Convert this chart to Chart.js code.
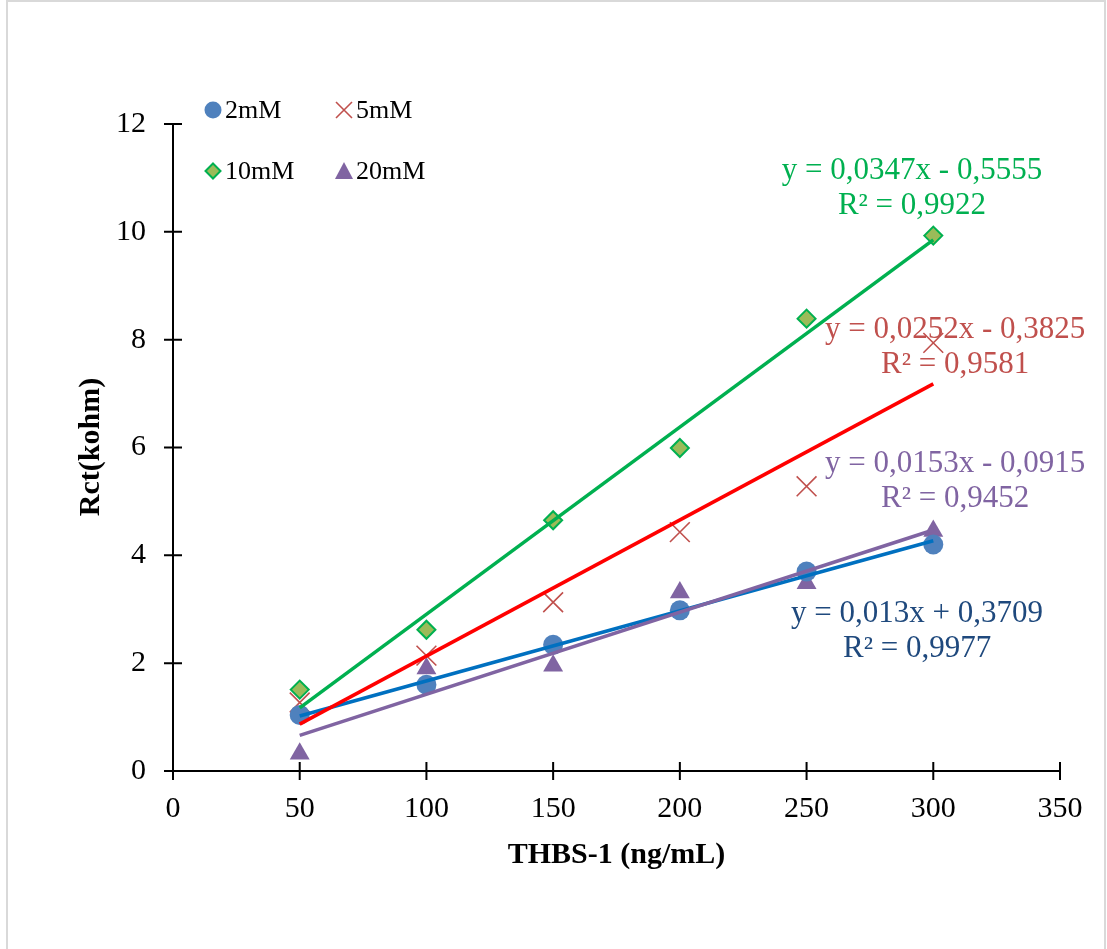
<!DOCTYPE html>
<html>
<head>
<meta charset="utf-8">
<script src="https://cdn.jsdelivr.net/npm/chart.js@4.4.1/dist/chart.umd.min.js"></script>
<style>
  html, body { margin: 0; padding: 0; background: #fff; }
  #wrap { width: 1107px; height: 949px; }
</style>
</head>
<body>
<div id="wrap"><canvas id="c" width="1107" height="949"></canvas></div>
<script>
// data
const concentrations = [50, 100, 150, 200, 250, 300];
const rct2mM  = [1.04, 1.60, 2.34, 2.98, 3.70, 4.20];
const rct5mM  = [1.27, 2.14, 3.13, 4.43, 5.28, 7.94];
const rct10mM = [1.51, 2.62, 4.65, 5.99, 8.39, 9.93];
const rct20mM = [0.32, 1.90, 1.95, 3.31, 3.48, 4.45];

// trendline ends (x = 50 and x = 300)
const trendX = [50, 300];
const trend2mM  = [1.02, 4.27];
const trend5mM  = [0.87, 7.18];
const trend10mM = [1.17, 9.85];
const trend20mM = [0.66, 4.47];

const xTicks = [0, 50, 100, 150, 200, 250, 300, 350];
const yTicks = [0, 2, 4, 6, 8, 10, 12];

const equations = [
  { lines: ['y = 0,0347x - 0,5555', 'R² = 0,9922'], at: [291.6, 11.14], color: '#00B050' },
  { lines: ['y = 0,0252x - 0,3825', 'R² = 0,9581'], at: [308.6, 8.18],  color: '#C0504D' },
  { lines: ['y = 0,0153x - 0,0915', 'R² = 0,9452'], at: [308.6, 5.69],  color: '#8064A2' },
  { lines: ['y = 0,013x + 0,3709',  'R² = 0,9977'], at: [293.6, 2.91],  color: '#1F497D' }
];

const SERIF = '"Liberation Serif", "Times New Roman", serif';

function pts(xs, ys) {
  return xs.map((x, i) => ({ x: x, y: ys[i] }));
}

function trend(ys, color) {
  return {
    type: 'line', data: pts(trendX, ys), borderColor: color, borderWidth: 3.5,
    pointRadius: 0, showLine: true, fill: false, order: 1
  };
}

// 軸の目盛り線、タイトル、凡例、近似式を描く
const decorations = {
  id: 'decorations',
  beforeDraw(chart) {
    const ctx = chart.ctx;
    ctx.save();
    ctx.strokeStyle = '#d9d9d9';
    ctx.lineWidth = 2;
    ctx.strokeRect(7, 1, 1098, 980);
    ctx.restore();
  },
  afterDraw(chart) {
    const ctx = chart.ctx;
    const xs = chart.scales.x, ys = chart.scales.y;
    const a = chart.chartArea;
    ctx.save();
    ctx.strokeStyle = '#000';
    ctx.lineWidth = 2;
    ctx.beginPath();
    yTicks.forEach(v => {
      const py = ys.getPixelForValue(v);
      ctx.moveTo(a.left - 9, py); ctx.lineTo(a.left + 9, py);
    });
    xTicks.forEach(v => {
      const px = xs.getPixelForValue(v);
      ctx.moveTo(px, a.bottom - 9); ctx.lineTo(px, a.bottom + 9);
    });
    ctx.stroke();

    // axis titles
    ctx.fillStyle = '#000';
    ctx.font = 'bold 30px ' + SERIF;
    ctx.textAlign = 'center';
    ctx.textBaseline = 'alphabetic';
    ctx.fillText('THBS-1 (ng/mL)', (a.left + a.right) / 2, 863);
    ctx.save();
    ctx.translate(99, 447);
    ctx.rotate(-Math.PI / 2);
    ctx.fillText('Rct(kohm)', 0, 0);
    ctx.restore();

    // legend
    const legend = [
      { label: '2mM',  style: 'circle',   x: 213, y: 110 },
      { label: '5mM',  style: 'cross',    x: 344, y: 110 },
      { label: '10mM', style: 'diamond',  x: 213, y: 171 },
      { label: '20mM', style: 'triangle', x: 344, y: 171 }
    ];
    legend.forEach(it => {
      ctx.beginPath();
      if (it.style === 'circle') {
        ctx.fillStyle = '#4F81BD';
        ctx.arc(it.x, it.y, 8.5, 0, Math.PI * 2);
        ctx.fill();
      } else if (it.style === 'cross') {
        ctx.strokeStyle = '#C0504D';
        ctx.lineWidth = 1.6;
        ctx.moveTo(it.x - 8, it.y - 8); ctx.lineTo(it.x + 8, it.y + 8);
        ctx.moveTo(it.x + 8, it.y - 8); ctx.lineTo(it.x - 8, it.y + 8);
        ctx.stroke();
      } else if (it.style === 'diamond') {
        ctx.fillStyle = '#9BBB59';
        ctx.strokeStyle = '#00B050';
        ctx.lineWidth = 2;
        ctx.moveTo(it.x, it.y - 7.5); ctx.lineTo(it.x + 7.5, it.y);
        ctx.lineTo(it.x, it.y + 7.5); ctx.lineTo(it.x - 7.5, it.y);
        ctx.closePath(); ctx.fill(); ctx.stroke();
      } else {
        ctx.fillStyle = '#8064A2';
        ctx.moveTo(it.x, it.y - 9); ctx.lineTo(it.x + 9, it.y + 8);
        ctx.lineTo(it.x - 9, it.y + 8);
        ctx.closePath(); ctx.fill();
      }
      ctx.fillStyle = '#000';
      ctx.font = '26px ' + SERIF;
      ctx.textAlign = 'left';
      ctx.textBaseline = 'middle';
      ctx.fillText(it.label, it.x + 12, it.y + 1);
    });

    // trendline equations
    ctx.font = '31px ' + SERIF;
    ctx.textAlign = 'center';
    ctx.textBaseline = 'middle';
    equations.forEach(eq => {
      ctx.fillStyle = eq.color;
      const px = xs.getPixelForValue(eq.at[0]);
      const py = ys.getPixelForValue(eq.at[1]);
      eq.lines.forEach((t, i) => ctx.fillText(t, px, py + i * 35));
    });
    ctx.restore();
  }
};

new Chart(document.getElementById('c'), {
  type: 'scatter',
  data: {
    datasets: [
      trend(trend10mM, '#00B050'),
      trend(trend5mM, '#FF0000'),
      trend(trend20mM, '#8064A2'),
      trend(trend2mM, '#0070C0'),
      { label: '2mM', data: pts(concentrations, rct2mM), pointStyle: 'circle', pointRadius: 10,
        backgroundColor: '#4F81BD', borderColor: '#4F81BD', borderWidth: 0, order: 2 },
      { label: '5mM', data: pts(concentrations, rct5mM), pointStyle: 'crossRot', pointRadius: 14,
        borderColor: '#C0504D', borderWidth: 1.6, order: 2 },
      { label: '10mM', data: pts(concentrations, rct10mM), pointStyle: 'rectRot', pointRadius: 9,
        backgroundColor: '#9BBB59', borderColor: '#00B050', borderWidth: 2, order: 2 },
      { label: '20mM', data: pts(concentrations, rct20mM), pointStyle: 'triangle', pointRadius: 11.5,
        backgroundColor: '#8064A2', borderColor: '#8064A2', borderWidth: 0, order: 2 }
    ]
  },
  options: {
    responsive: false,
    animation: false,
    layout: { padding: { left: 7, right: 47, top: 124, bottom: 60 } },
    plugins: { legend: { display: false }, tooltip: { enabled: false } },
    scales: {
      x: {
        type: 'linear', min: 0, max: 350,
        afterBuildTicks: s => { s.ticks = xTicks.map(v => ({ value: v })); },
        afterFit: s => { s.height = 118; },
        grid: { display: false, drawTicks: false },
        border: { display: true, color: '#000', width: 2 },
        ticks: { color: '#000', padding: 20, font: { family: SERIF, size: 30 } }
      },
      y: {
        type: 'linear', min: 0, max: 12,
        afterBuildTicks: s => { s.ticks = yTicks.map(v => ({ value: v })); },
        afterFit: s => { s.width = 166; },
        grid: { display: false, drawTicks: false },
        border: { display: true, color: '#000', width: 2 },
        ticks: { color: '#000', padding: 27, font: { family: SERIF, size: 30 } }
      }
    }
  },
  plugins: [decorations]
});
</script>
</body>
</html>
